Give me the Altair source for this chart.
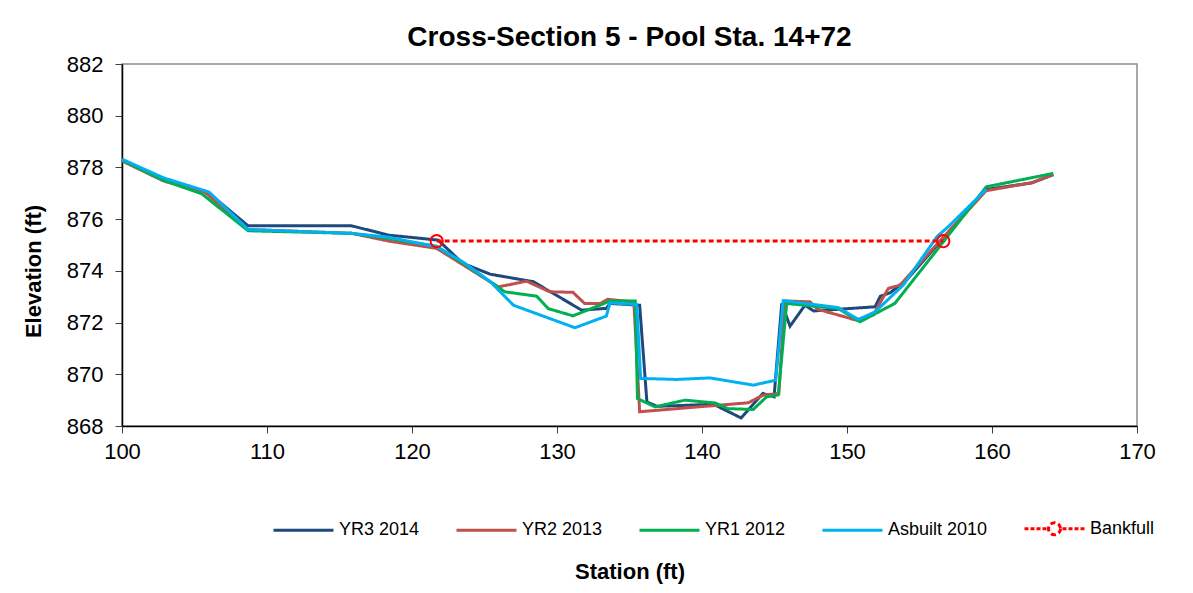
import altair as alt
import pandas as pd

# ---- data ----
series_names = ["YR3 2014", "YR2 2013", "YR1 2012", "Asbuilt 2010", "Bankfull"]
series_colors = ["#1F497D", "#C0504D", "#00B050", "#00B0F0", "#FF0000"]

yr3_sta = [100.0, 102.85, 106.0, 108.7, 115.84, 118.4, 121.8, 123.5, 125.4, 128.37, 131.7, 133.4, 133.66, 135.7,
           136.2, 136.9, 140.8, 142.7, 144.2, 144.97, 145.5, 146.07, 147.1, 147.7, 151.93, 152.3, 152.97, 154.1,
           159.6, 162.74, 164.23]
yr3_elev = [878.28, 877.55, 877.0, 875.74, 875.74, 875.38, 875.19, 874.29, 873.87, 873.58, 872.48, 872.55, 872.74, 872.67,
            868.93, 868.76, 868.84, 868.31, 869.26, 869.13, 872.74, 871.86, 872.67, 872.45, 872.61, 873.02, 873.15, 873.64,
            877.15, 877.40, 877.72]

yr2_sta = [100.0, 102.85, 105.7, 108.7, 115.84, 118.4, 121.7, 125.95, 127.9, 129.5, 131.1, 131.9, 133.0, 133.5, 135.3,
           135.7, 143.2, 144.2, 145.3, 145.7, 147.45, 148.0, 150.67, 151.8, 152.85, 153.66, 156.64, 159.6, 162.74, 164.23]
yr2_elev = [878.25, 877.48, 877.05, 875.6, 875.45, 875.15, 874.87, 873.38, 873.6, 873.19, 873.17, 872.74, 872.74, 872.9, 872.8,
            868.55, 868.9, 869.19, 869.26, 872.84, 872.8, 872.51, 872.09, 872.29, 873.32, 873.45, 875.3, 877.1, 877.41, 877.73]

yr1_sta = [100.0, 102.85, 105.5, 108.7, 115.84, 118.4, 121.7, 123.5, 125.4, 126.4, 128.6, 129.4, 131.1, 133.66, 135.4,
           135.55, 136.76, 138.83, 140.9, 141.8, 143.54, 144.46, 145.26, 145.84, 149.4, 150.9, 153.3, 156.64, 159.6, 164.23]
yr1_elev = [878.28, 877.5, 876.98, 875.55, 875.45, 875.25, 874.95, 874.3, 873.58, 873.19, 873.02, 872.54, 872.26, 872.83, 872.83,
            869.06, 868.74, 869.0, 868.89, 868.67, 868.64, 869.13, 869.2, 872.74, 872.54, 872.03, 872.74, 875.12, 877.25, 877.77]

asb_sta = [100.0, 102.85, 106.0, 108.7, 115.84, 118.4, 121.7, 123.5, 125.4, 127.0, 131.24, 133.4, 133.66, 135.5,
           135.77, 138.25, 140.55, 143.54, 145.08, 145.6, 149.4, 150.78, 151.93, 153.88, 156.2, 157.1, 159.6]
asb_elev = [878.32, 877.6, 877.05, 875.6, 875.45, 875.3, 874.93, 874.35, 873.58, 872.67, 871.8, 872.25, 872.76, 872.7,
            869.84, 869.8, 869.86, 869.58, 869.77, 872.85, 872.58, 872.12, 872.41, 873.45, 875.32, 875.77, 877.15]

bkf_sta = [121.7, 156.64]
bkf_elev = [875.15, 875.15]

x_ticks = [100, 110, 120, 130, 140, 150, 160, 170]
y_ticks = [868, 870, 872, 874, 876, 878, 880, 882]

# ---- build table ----
rows = []
for name, sta, elev in zip(series_names,
                           [yr3_sta, yr2_sta, yr1_sta, asb_sta, bkf_sta],
                           [yr3_elev, yr2_elev, yr1_elev, asb_elev, bkf_elev]):
    for i, (s, e) in enumerate(zip(sta, elev)):
        rows.append({"series": name, "station": s, "elev": e, "idx": i})
df = pd.DataFrame(rows)

FONT = "Liberation Sans"

# legend symbol for Bankfull: short dashes on both sides of an open circle
BKF_SYMBOL = ("M-1,0H-0.867M-0.8,0H-0.667M-0.6,0H-0.467M-0.4,0H-0.267"
              "M0.267,0H0.4M0.467,0H0.6M0.667,0H0.8M0.867,0H1"
              "M0.2,0A0.2,0.2,0,1,1,-0.2,0A0.2,0.2,0,1,1,0.2,0")

x_enc = alt.X("station:Q", scale=alt.Scale(domain=[100, 170], nice=False),
              axis=alt.Axis(values=x_ticks, title="Station (ft)", titleY=152, titleBaseline="alphabetic",
                            labelFlush=False))
y_enc = alt.Y("elev:Q", scale=alt.Scale(domain=[868, 882], nice=False, zero=False),
              axis=alt.Axis(values=y_ticks, title="Elevation (ft)", titleX=-82, titleY=207,
                            titleAlign="center", titleBaseline="alphabetic", titleAngle=270,
                            labelFlush=False))

legend = alt.Legend(
    title=None, orient="none", legendX=150, legendY=433, direction="horizontal",
    columns=5, columnPadding=30,
    symbolType={"expr": "datum.value === 'Bankfull' ? '" + BKF_SYMBOL + "' : 'stroke'"},
    symbolSize=3600,
    symbolStrokeWidth={"expr": "datum.value === 'Bankfull' ? 1.5 : 3"},
    labelFontSize=18, labelFont=FONT, labelColor="#000000", labelOffset=4,
)

lines = alt.Chart(df).mark_line(clip=False).encode(
    x=x_enc,
    y=y_enc,
    color=alt.Color("series:N", scale=alt.Scale(domain=series_names, range=series_colors), legend=legend),
    strokeDash=alt.StrokeDash("series:N", scale=alt.Scale(domain=series_names,
                                                          range=[[1, 0], [1, 0], [1, 0], [1, 0], [5, 3]]),
                              legend=None),
    strokeWidth=alt.StrokeWidth("series:N", scale=alt.Scale(domain=series_names, range=[3, 3, 3, 3, 1.5]),
                                legend=None),
    order="idx:Q",
)

bkf_points = alt.Chart(df[df["series"] == "Bankfull"]).mark_point(
    shape="circle", filled=False, size=150, strokeWidth=2, color="#FF0000", opacity=1
).encode(x="station:Q", y="elev:Q")

chart = alt.layer(lines, bkf_points).properties(
    width=1015, height=362,
    autosize=alt.AutoSizeParams(type="none"),
    padding={"left": 114, "top": 56, "right": 48, "bottom": 159},
    title=alt.TitleParams("Cross-Section 5 - Pool Sta. 14+72", fontSize=28, font=FONT, fontWeight="bold",
                          color="#000000", offset=1, anchor="middle"),
).configure_view(
    stroke="#8C8C8C", strokeWidth=1.5
).configure_axis(
    grid=False, labelFont=FONT, labelFontSize=22, labelColor="#000000",
    titleFont=FONT, titleFontSize=22, titleFontWeight="bold", titleColor="#000000",
    domainColor="#000000", domainWidth=1.5, tickColor="#404040", tickSize=7, labelPadding=8
).configure_axisY(labelPadding=12)

chart.save("out.html", embed_options={"renderer": "svg", "actions": False})
